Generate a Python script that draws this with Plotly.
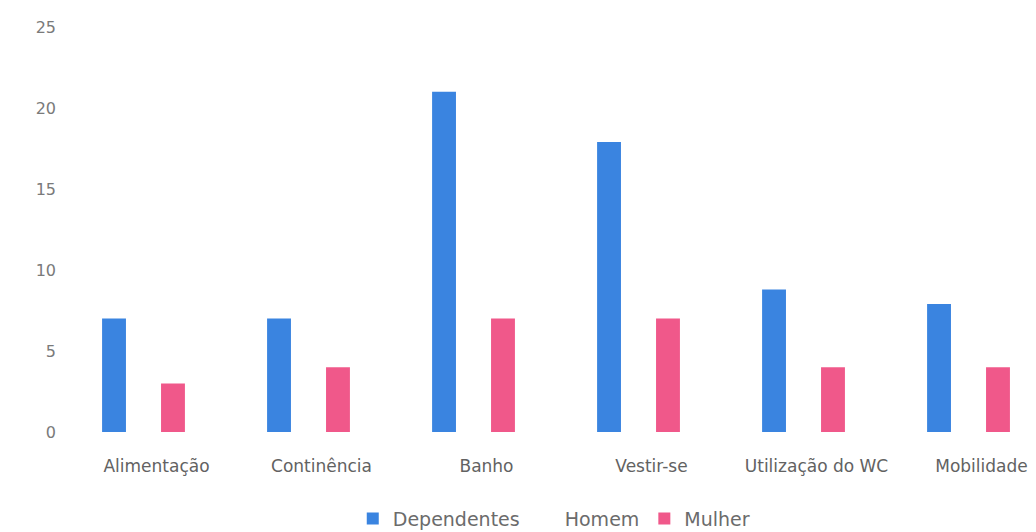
import plotly.graph_objects as go

categorias = ["Alimentação", "Continência", "Banho", "Vestir-se", "Utilização do WC", "Mobilidade"]
dependentes = [7, 7, 21, 17.9, 8.8, 7.9]
homem = [0, 0, 0, 0, 0, 0]
mulher = [3, 4, 7, 7, 4, 4]

fig = go.Figure()
fig.add_trace(go.Bar(x=categorias, y=dependentes, name="Dependentes",
                     marker=dict(color="#3a84e0", line=dict(width=0))))
fig.add_trace(go.Bar(x=categorias, y=homem, name="Homem",
                     marker=dict(color="rgba(255,255,255,0)", line=dict(width=0))))
fig.add_trace(go.Bar(x=categorias, y=mulher, name="Mulher",
                     marker=dict(color="#f0588a", line=dict(width=0))))

fig.update_layout(
    width=1036, height=532,
    margin=dict(l=61, r=0, t=27, b=100, autoexpand=False),
    paper_bgcolor="white", plot_bgcolor="white",
    barmode="group", bargap=0.464, bargroupgap=0.19,
    font=dict(family="'DejaVu Sans', sans-serif", size=17, color="#6b6b6b"),
    showlegend=True,
    legend=dict(orientation="h", xref="container", x=0.535, xanchor="center",
                yref="container", y=0.025, yanchor="middle",
                font=dict(size=19, color="#6b6b6b"), itemwidth=30,
                traceorder="normal"),
    xaxis=dict(range=[-0.5, 5.409], showgrid=False, showline=False, zeroline=False,
               ticks="", ticklabelshift=13, ticklabelstandoff=22,
               tickfont=dict(size=17, color="#626262")),
    yaxis=dict(range=[0, 25], dtick=5, showgrid=False, showline=False, zeroline=False,
               ticks="", ticklabelstandoff=4, tickfont=dict(size=16, color="#7a7a7a")),
)

fig.write_html("out.html")
